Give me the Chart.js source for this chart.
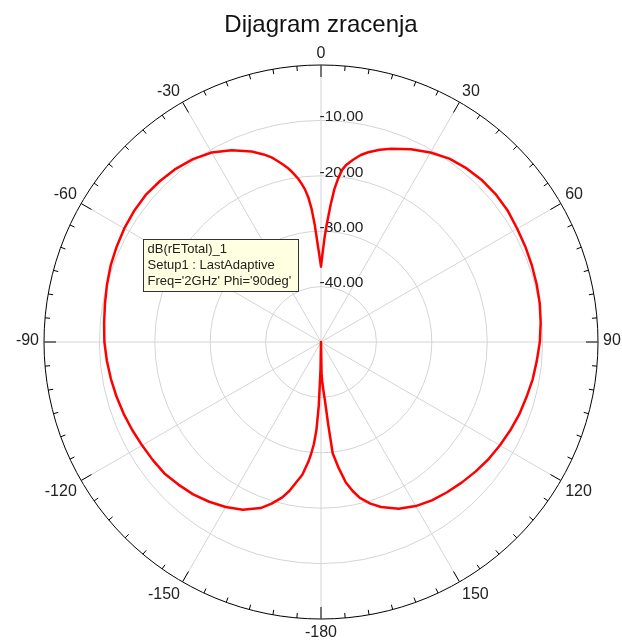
<!DOCTYPE html>
<html>
<head>
<meta charset="utf-8">
<title>Dijagram zracenja</title>
<script src="https://cdn.jsdelivr.net/npm/chart.js@4/dist/chart.umd.min.js"></script>
<style>
  html, body { margin: 0; padding: 0; background: #fff; }
  #wrap { width: 622px; height: 644px; }
</style>
</head>
<body>
<div id="wrap"><canvas id="pattern" width="622" height="644"></canvas></div>
<script>
var angleDeg = [
  0, 1, 2, 3, 4, 5, 6, 7, 8, 9, 10, 12, 14, 17, 20, 25, 30, 35, 40, 45, 50, 55, 60,
  65, 70, 75, 80, 85, 90, 95, 100, 105, 110, 115, 120, 125, 130, 135, 140,
  145, 150, 155, 160, 163, 166, 168, 170, 172, 174, 175, 176, 177, 178, 179, 180,
  -179, -178, -177, -176, -175, -174, -172, -170, -168, -166, -163, -160,
  -155, -150, -145, -140, -135, -130, -125, -120, -115, -110, -105, -100,
  -95, -90, -85, -80, -75, -70, -65, -60, -55, -50, -45, -40, -35, -30,
  -25, -20, -17, -15, -14, -13, -12, -11, -10, -9, -8, -7, -6, -5, -4, -3, -2, -1
];
var gainDb = [
  -36.4, -34.0, -31.0, -28.2, -25.2, -22.3, -20.3, -18.7, -17.8, -17.2, -16.6, -15.5, -14.7, -13.7, -12.9, -11.6, -10.5, -9.6, -9.1, -8.8, -8.7, -8.8, -9.1,
  -9.3, -9.5, -9.7, -9.9, -10.2, -10.5, -10.9, -11.2, -11.6, -11.9, -12.3, -12.7, -13.1, -13.6, -14.1, -14.6,
  -15.1, -15.8, -16.8, -18.3, -19.5, -21.0, -22.5, -24.3, -27.0, -29.8, -35.0, -39.0, -41.0, -42.5, -44.0, -50.0,
  -45.0, -38.5, -34.0, -31.5, -29.8, -28.3, -25.8, -24.3, -22.5, -21.1, -19.5, -18.1,
  -16.6, -15.6, -14.8, -14.1, -13.6, -13.1, -12.9, -12.7, -12.4, -12.1, -11.8, -11.5,
  -11.2, -10.9, -10.7, -10.4, -10.0, -9.6, -9.3, -9.0, -8.8, -8.7, -8.9, -9.2, -9.7, -10.5,
  -11.8, -13.4, -14.6, -15.5, -16.1, -16.7, -17.3, -17.9, -18.6, -19.4, -20.2, -21.2, -22.3, -23.8, -26.0, -29.0, -32.2, -34.5
];

var ringValues = [-10, -20, -30, -40];
var rMin = -50, rMax = 0;
var labelStep = 30;
var legendLines = ["dB(rETotal)_1", "Setup1 : LastAdaptive", "Freq='2GHz' Phi='90deg'"];

// one category per degree, clockwise from the top
var thetaLabels = [];
for (var d = 0; d < 360; d++) thetaLabels.push(String(d < 180 ? d : d - 360));

var rValues = thetaLabels.map(function () { return null; });
angleDeg.forEach(function (a, k) { rValues[(a + 360) % 360] = gainDb[k]; });

Chart.defaults.font.family = "'Liberation Sans', Arial, sans-serif";
Chart.defaults.color = '#222';

var polarDecor = {
  id: 'polarDecor',
  beforeDatasetsDraw: function (chart) {
    var s = chart.scales.r, ctx = chart.ctx, R = s.drawingArea;
    ctx.save();
    // degree ticks on the outer ring
    ctx.strokeStyle = '#000';
    ctx.lineWidth = 1;
    for (var i = 0; i < 360; i += 5) {
      var len = i % labelStep === 0 ? 12 : 5;
      var a = s.getPointPosition(i, R), b = s.getPointPosition(i, R - len);
      ctx.beginPath(); ctx.moveTo(a.x, a.y); ctx.lineTo(b.x, b.y); ctx.stroke();
    }
    // angle labels
    ctx.fillStyle = '#222';
    ctx.font = "16px 'Liberation Sans', Arial, sans-serif";
    ctx.textBaseline = 'middle';
    for (var j = 0; j < 360; j += labelStep) {
      var p = s.getPointPosition(j, R + 5);
      var my = p.y;
      if (j === 90 || j === 270) my = p.y - 1;
      else if (j > 270 || j < 90) my = p.y - 6.6;
      else my = p.y + 8.8;
      ctx.textAlign = (j === 0 || j === 180) ? 'center' : (j < 180 ? 'left' : 'right');
      ctx.fillText(thetaLabels[j], p.x, my);
    }
    // dB ring labels
    ctx.font = "15.5px 'Liberation Sans', Arial, sans-serif";
    ctx.textAlign = 'left';
    ringValues.forEach(function (v) {
      var y = s.yCenter - s.getDistanceFromCenterForValue(v);
      ctx.fillText(v.toFixed(2), s.xCenter - 1.5, y - 3.5);
    });
    ctx.restore();
  },
  afterDatasetsDraw: function (chart) {
    var ctx = chart.ctx;
    ctx.save();
    ctx.font = "13px 'Liberation Sans', Arial, sans-serif";
    var w = 0;
    legendLines.forEach(function (t) { w = Math.max(w, ctx.measureText(t).width); });
    var x = 143.5, y = 239.5, bw = Math.round(w) + 11, bh = 52;
    ctx.fillStyle = '#ffffe1';
    ctx.fillRect(x, y, bw, bh);
    ctx.strokeStyle = '#333';
    ctx.lineWidth = 1;
    ctx.strokeRect(x, y, bw, bh);
    ctx.fillStyle = '#222';
    ctx.textAlign = 'left';
    ctx.textBaseline = 'middle';
    legendLines.forEach(function (t, k) { ctx.fillText(t, x + 4, y + 9.5 + k * 16.2); });
    ctx.restore();
  }
};

var ctx = document.getElementById('pattern').getContext('2d');
window.patternChart = new Chart(ctx, {
  type: 'radar',
  data: {
    labels: thetaLabels,
    datasets: [{
      label: 'dB(rETotal)_1',
      data: rValues,
      spanGaps: true,
      borderColor: '#ff0000',
      backgroundColor: 'transparent',
      borderWidth: 2.5,
      borderJoinStyle: 'round',
      fill: false,
      tension: 0,
      pointRadius: 0,
      pointHoverRadius: 0
    }]
  },
  options: {
    responsive: false,
    animation: false,
    layout: { padding: { left: 44, right: 24, top: 0, bottom: 20 } },
    plugins: {
      legend: { display: false },
      tooltip: { enabled: false },
      title: {
        display: true,
        text: 'Dijagram zracenja',
        color: '#111',
        font: { size: 24, weight: 'normal' },
        padding: { top: 11, bottom: 20.2 }
      }
    },
    scales: {
      r: {
        min: rMin,
        max: rMax,
        startAngle: 0,
        ticks: { display: false, stepSize: 10 },
        pointLabels: { display: false },
        grid: {
          circular: true,
          color: function (c) { return c.tick && c.tick.value === rMax ? '#000' : '#d4d4d4'; },
          lineWidth: function (c) { return c.tick && c.tick.value === rMin ? 0 : 1; }
        },
        angleLines: {
          color: '#d4d4d4',
          lineWidth: function (c) { return c.index % labelStep === 0 ? 1 : 0; }
        }
      }
    }
  },
  plugins: [polarDecor]
});
</script>
</body>
</html>
